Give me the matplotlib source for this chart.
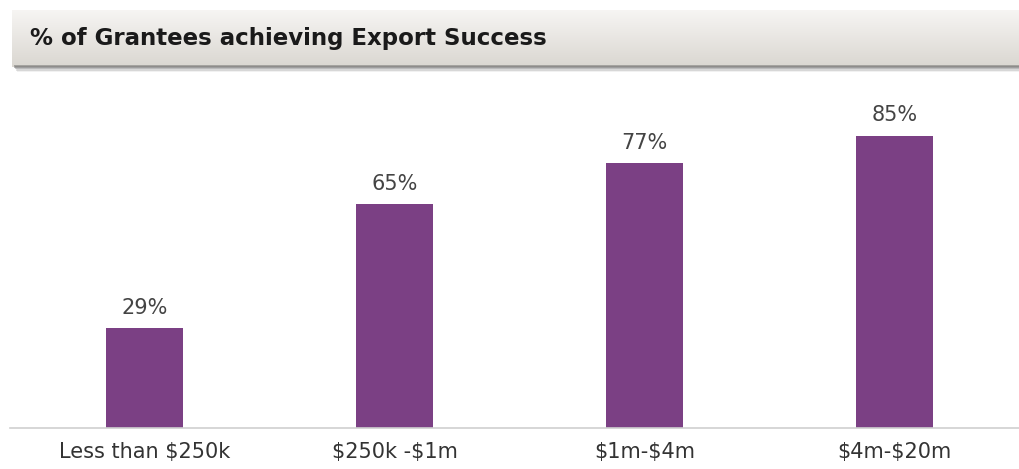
import numpy as np
import matplotlib
matplotlib.use("Agg")
import matplotlib.pyplot as plt
from matplotlib.patches import Rectangle

plt.rcParams["text.parse_math"] = False

# chart data
categories = ["Less than $250k", "$250k -$1m", "$1m-$4m", "$4m-$20m"]
values = [29, 65, 77, 85]
title = "% of Grantees achieving Export Success"

W, H = 1020, 469
fig = plt.figure(figsize=(W / 100, H / 100), dpi=100)
fig.patch.set_facecolor("white")


def fx(px):
    return px / W


def fy(py):
    return 1 - py / H


# banner shadow (soft dark band under the header)
for i, a in enumerate([0.40, 0.28, 0.16, 0.08]):
    fig.patches.append(Rectangle((fx(14 + i), fy(68 + i * 1.5)), fx(1020), fy(0) - fy(3),
                                 transform=fig.transFigure, facecolor="#555555",
                                 edgecolor="none", alpha=a, zorder=0))

# banner with vertical gradient
bax = fig.add_axes([fx(12), fy(67), 1 - fx(12), fy(10) - fy(67)])
grad = np.linspace(0, 1, 64).reshape(-1, 1)
top = np.array([0.965, 0.960, 0.952])
bot = np.array([0.855, 0.843, 0.820])
img = top + (bot - top) * grad[..., None]
bax.imshow(img, aspect="auto", extent=[0, 1, 0, 1])
bax.set_axis_off()
bax.text(0.018, 0.5, title, transform=bax.transAxes, ha="left", va="center",
         fontsize=16.5, fontweight="bold", color="#1a1a1a", family="DejaVu Sans")

# bar chart
ax = fig.add_axes([fx(10), fy(428), 1 - fx(10), fy(90) - fy(428)])
x = np.arange(len(categories))
bars = ax.bar(x, values, width=0.31, color="#7B4084", zorder=2)
ax.set_xlim(-0.538, 3.502)
ax.set_ylim(0, (428 - 90) / 3.44)

for b, v in zip(bars, values):
    ax.text(b.get_x() + b.get_width() / 2, v + 3.0, f"{v}%", ha="center", va="bottom",
            fontsize=15, color="#444444", family="DejaVu Sans")

for s in ["top", "right", "left"]:
    ax.spines[s].set_visible(False)
ax.spines["bottom"].set_color("#d0d0d0")
ax.spines["bottom"].set_linewidth(1.2)
ax.set_yticks([])
ax.set_xticks(x)
ax.set_xticklabels(categories, fontsize=15, color="#333333", family="DejaVu Sans")
ax.tick_params(axis="x", length=0, pad=10)

fig.savefig("out.png", dpi=100)
